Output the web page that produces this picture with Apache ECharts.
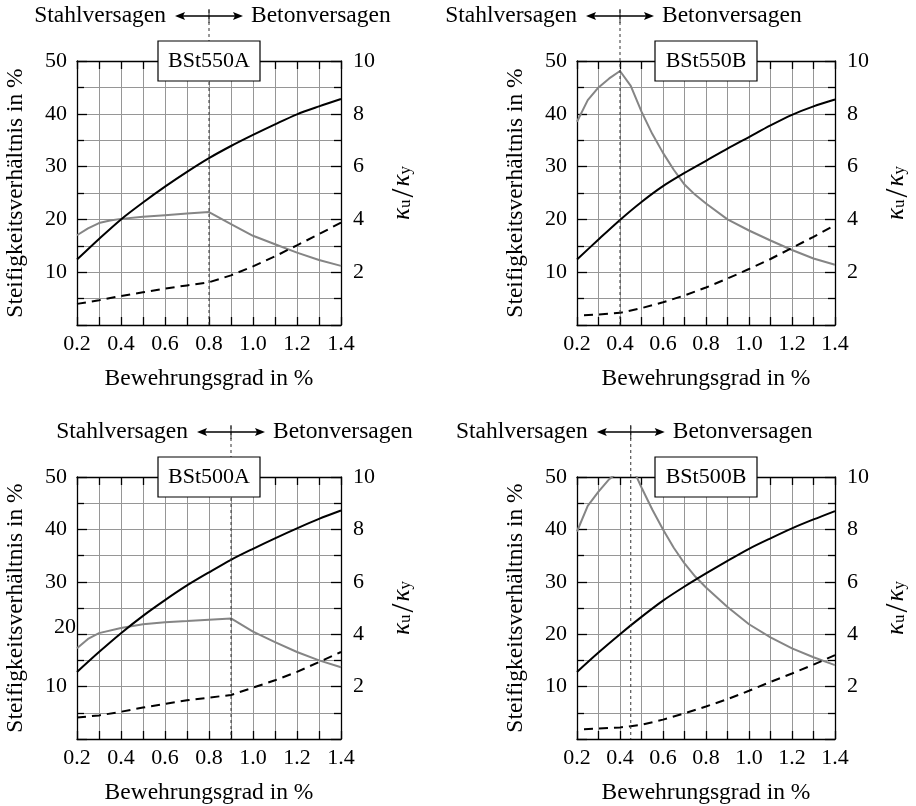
<!DOCTYPE html>
<html>
<head>
<meta charset="utf-8">
<script src="https://cdn.jsdelivr.net/npm/echarts@6/dist/echarts.min.js"></script>
<style>
  html, body { margin: 0; padding: 0; background: #fff; }
  #chart { width: 916px; height: 806px; }
</style>
</head>
<body>
<div id="chart"></div>
<script>
// Bewehrungsgrad (reinforcement ratio, %) sampled every 0.1
const rho = [0.2, 0.3, 0.4, 0.5, 0.6, 0.7, 0.8, 0.9, 1.0, 1.1, 1.2, 1.3, 1.4];

// BSt550A
const steif550A = [12.4, 16.3, 20.0, 23.2, 26.2, 29.0, 31.6, 33.9, 36.0, 38.0, 39.9, 41.4, 42.8];
const dash550A  = [4.0, 4.7, 5.5, 6.2, 6.9, 7.5, 8.1, 9.4, 11.1, 13.0, 15.1, 17.2, 19.4];
const rhoK550A  = [0.2, 0.25, 0.3, 0.35, 0.4, 0.5, 0.6, 0.7, 0.8, 0.9, 1.0, 1.1, 1.2, 1.3, 1.4];
const kappa550A = [3.40, 3.66, 3.86, 3.96, 4.02, 4.10, 4.16, 4.22, 4.28, 3.82, 3.38, 3.06, 2.74, 2.46, 2.24];
const limit550A = 0.8;

// BSt550B
const steif550B = [12.4, 16.2, 19.9, 23.3, 26.3, 28.8, 31.1, 33.4, 35.6, 37.8, 39.8, 41.4, 42.7];
const dash550B  = [1.8, 2.0, 2.3, 3.2, 4.3, 5.6, 7.1, 8.8, 10.6, 12.5, 14.6, 16.7, 18.9];
const rhoK550B  = [0.2, 0.25, 0.3, 0.35, 0.4, 0.45, 0.5, 0.55, 0.6, 0.65, 0.7, 0.75, 0.8, 0.9, 1.0, 1.1, 1.2, 1.3, 1.4];
const kappa550B = [7.70, 8.52, 9.00, 9.34, 9.62, 9.06, 8.08, 7.24, 6.52, 5.88, 5.32, 4.93, 4.60, 4.00, 3.58, 3.20, 2.84, 2.52, 2.28];
const limit550B = 0.4;

// BSt500A
const steif500A = [12.8, 16.6, 20.2, 23.5, 26.5, 29.3, 31.8, 34.2, 36.3, 38.3, 40.2, 42.0, 43.6];
const dash500A  = [4.1, 4.5, 5.2, 6.0, 6.7, 7.4, 7.9, 8.4, 9.8, 11.2, 12.8, 14.7, 16.6];
const rhoK500A  = [0.2, 0.25, 0.3, 0.4, 0.5, 0.6, 0.7, 0.8, 0.9, 1.0, 1.1, 1.2, 1.3, 1.4];
const kappa500A = [3.46, 3.82, 4.04, 4.24, 4.38, 4.46, 4.50, 4.55, 4.60, 4.10, 3.70, 3.32, 3.00, 2.74];
const limit500A = 0.9;

// BSt500B
const steif500B = [12.8, 16.5, 20.0, 23.3, 26.4, 29.1, 31.6, 34.0, 36.3, 38.3, 40.2, 41.9, 43.5];
const dash500B  = [1.8, 2.0, 2.2, 2.7, 3.7, 4.9, 6.2, 7.6, 9.2, 10.9, 12.5, 14.2, 16.0];
const rhoK500B  = [0.2, 0.25, 0.3, 0.35, 0.4, 0.45, 0.5, 0.55, 0.6, 0.65, 0.7, 0.75, 0.8, 0.9, 1.0, 1.1, 1.2, 1.3, 1.4];
const kappa500B = [7.92, 8.90, 9.44, 9.92, 10.24, 10.50, 9.60, 8.76, 8.00, 7.30, 6.70, 6.20, 5.78, 5.04, 4.38, 3.88, 3.46, 3.12, 2.82];
const limit500B = 0.45;

// Tick labels
const xTickLabels = ['0.2', '0.4', '0.6', '0.8', '1.0', '1.2', '1.4'];
const leftTickLabels = ['10', '20', '30', '40', '50'];
const rightTickLabels = ['2', '4', '6', '8', '10'];

// Texts
const xName = 'Bewehrungsgrad in %';
const yName = 'Steifigkeitsverhältnis in %';
const failLeft = 'Stahlversagen';
const failRight = 'Betonversagen';

const FONT = 'Liberation Serif';
const FS_TICK = 22;     // tick labels and material boxes
const FS_TEXT = 23.5;   // axis names and failure-mode annotations
const GRID_COLOR = '#969696';
const GRAY = '#858585';

const panels = [
  { title: 'BSt550A', steif: steif550A, dash: dash550A, rhoK: rhoK550A, kappa: kappa550A, limit: limit550A,
    grid: { left: 77, top: 61, width: 264, height: 264 }, dashOffset: 0, lift20: false },
  { title: 'BSt550B', steif: steif550B, dash: dash550B, rhoK: rhoK550B, kappa: kappa550B, limit: limit550B,
    grid: { left: 577, top: 61, width: 265, height: 264 }, dashOffset: 8, lift20: false },
  { title: 'BSt500A', steif: steif500A, dash: dash500A, rhoK: rhoK500A, kappa: kappa500A, limit: limit500A,
    grid: { left: 77, top: 477, width: 264, height: 264 }, dashOffset: 0, lift20: true },
  { title: 'BSt500B', steif: steif500B, dash: dash500B, rhoK: rhoK500B, kappa: kappa500B, limit: limit500B,
    grid: { left: 577, top: 477, width: 265, height: 264 }, dashOffset: 8, lift20: false }
];

const pairs = (xs, ys) => xs.map((x, i) => [x, ys[i]]);
const tickTxt = { fontFamily: FONT, fontSize: FS_TICK, color: '#000' };
const nameTxt = { fontFamily: FONT, fontSize: FS_TEXT, color: '#000' };

const grids = [], xAxes = [], yAxes = [], series = [];

panels.forEach((p, i) => {
  grids.push(Object.assign({ containLabel: false }, p.grid));

  // bottom axis with labels and vertical grid
  xAxes.push({
    type: 'value', gridIndex: i, position: 'bottom', min: 0.2, max: 1.4, interval: 0.1,
    axisLine: { onZero: false, lineStyle: { color: '#000', width: 1.3 } },
    axisTick: { inside: true, length: 8, lineStyle: { color: '#000', width: 1.3 } },
    axisLabel: Object.assign({}, tickTxt, {
      margin: 8,
      formatter: v => { const s = v.toFixed(1); return xTickLabels.includes(s) ? s : ''; }
    }),
    splitLine: { show: true, lineStyle: { color: GRID_COLOR, width: 1 } },
    name: xName, nameLocation: 'middle', nameGap: 42, nameTextStyle: nameTxt
  });
  // top frame axis, ticks only
  xAxes.push({
    type: 'value', gridIndex: i, position: 'top', min: 0.2, max: 1.4, interval: 0.1,
    axisLine: { onZero: false, lineStyle: { color: '#000', width: 1.3 } },
    axisTick: { inside: true, length: 8, lineStyle: { color: '#000', width: 1.3 } },
    axisLabel: { show: false }, splitLine: { show: false }
  });

  // left axis (Steifigkeitsverhältnis)
  yAxes.push({
    type: 'value', gridIndex: i, position: 'left', min: 0, max: 50, interval: 10,
    axisLine: { onZero: false, lineStyle: { color: '#000', width: 1.3 } },
    axisTick: { inside: true, length: 10, lineStyle: { color: '#000', width: 1.3 } },
    minorTick: { show: true, splitNumber: 2, length: 7, lineStyle: { color: '#000', width: 1.3 } },
    axisLabel: Object.assign({}, tickTxt, {
      margin: 1,
      formatter: v => {
        const s = String(v);
        if (!leftTickLabels.includes(s)) return '';
        return (p.lift20 && s === '20') ? '{o|' + s + '}' : '{n|' + s + '}';
      },
      rich: {
        n: { fontFamily: FONT, fontSize: FS_TICK, color: '#000', padding: [0, 9, 0, 0] },
        o: { fontFamily: FONT, fontSize: FS_TICK, color: '#000', padding: [0, 0, 14, 0] }
      }
    }),
    splitLine: { show: true, lineStyle: { color: GRID_COLOR, width: 1 } },
    minorSplitLine: { show: true, lineStyle: { color: GRID_COLOR, width: 1 } },
    name: yName, nameLocation: 'middle', nameGap: 49, nameTextStyle: nameTxt
  });
  // right axis (kappa_u / kappa_y)
  yAxes.push({
    type: 'value', gridIndex: i, position: 'right', min: 0, max: 10, interval: 2,
    axisLine: { onZero: false, lineStyle: { color: '#000', width: 1.3 } },
    axisTick: { inside: true, length: 10, lineStyle: { color: '#000', width: 1.3 } },
    minorTick: { show: true, splitNumber: 2, length: 7, lineStyle: { color: '#000', width: 1.3 } },
    axisLabel: Object.assign({}, tickTxt, {
      margin: 12,
      formatter: v => rightTickLabels.includes(String(v)) ? String(v) : ''
    }),
    splitLine: { show: false },
    name: '{k|κ}{s|u}{d|/}{k|κ}{s|y}', nameLocation: 'middle', nameGap: 48,
    nameTextStyle: {
      rich: {
        k: { fontFamily: FONT, fontSize: 25, fontStyle: 'italic', color: '#000', padding: [0, 0, 6, 0] },
        s: { fontFamily: FONT, fontSize: 17, color: '#000' },
        d: { fontFamily: FONT, fontSize: 32, color: '#000', padding: [0, 2, 1, 2] }
      }
    }
  });

  const xa = 2 * i, ya = 2 * i;
  series.push({
    type: 'line', xAxisIndex: xa, yAxisIndex: ya + 1, data: pairs(p.rhoK, p.kappa),
    showSymbol: false, clip: true, lineStyle: { color: GRAY, width: 2 }, z: 3
  });
  series.push({
    type: 'line', xAxisIndex: xa, yAxisIndex: ya, data: pairs(rho, p.dash),
    showSymbol: false, clip: true,
    lineStyle: { color: '#000', width: 2, type: [9, 6], dashOffset: p.dashOffset }, z: 4
  });
  series.push({
    type: 'line', xAxisIndex: xa, yAxisIndex: ya, data: pairs(rho, p.steif),
    showSymbol: false, clip: true, smooth: 0.3, lineStyle: { color: '#000', width: 2 }, z: 5
  });
});

const chart = echarts.init(document.getElementById('chart'), null, { renderer: 'canvas' });
chart.setOption({
  animation: false,
  backgroundColor: '#fff',
  grid: grids, xAxis: xAxes, yAxis: yAxes, series: series
});

// Failure-mode limit line, arrows and material boxes, placed from the axis scales
const elements = [];
const textFont = FS_TEXT + 'px "' + FONT + '"';
const boxFont = FS_TICK + 'px "' + FONT + '"';
panels.forEach((p, i) => {
  const x = chart.convertToPixel({ xAxisIndex: 2 * i }, p.limit);
  const yTop = chart.convertToPixel({ yAxisIndex: 2 * i }, 50);
  const yBot = chart.convertToPixel({ yAxisIndex: 2 * i }, 0);
  const xL = chart.convertToPixel({ xAxisIndex: 2 * i }, 0.2);
  const xR = chart.convertToPixel({ xAxisIndex: 2 * i }, 1.4);
  const cx = (xL + xR) / 2;
  const cy = yTop - 45;

  elements.push({ type: 'line', z: 50, shape: { x1: x, y1: cy - 6, x2: x, y2: yBot },
    style: { stroke: '#333', lineWidth: 1, lineDash: [3, 3] } });
  elements.push({ type: 'line', z: 51, shape: { x1: x, y1: cy - 7, x2: x, y2: cy + 7 },
    style: { stroke: '#222', lineWidth: 1 } });
  elements.push({ type: 'line', z: 51, shape: { x1: x - 28, y1: cy, x2: x + 28, y2: cy },
    style: { stroke: '#000', lineWidth: 1.3 } });
  elements.push({ type: 'polygon', z: 51, shape: { points: [[x - 34, cy], [x - 24, cy - 4], [x - 26, cy], [x - 24, cy + 4]] },
    style: { fill: '#000' } });
  elements.push({ type: 'polygon', z: 51, shape: { points: [[x + 34, cy], [x + 24, cy - 4], [x + 26, cy], [x + 24, cy + 4]] },
    style: { fill: '#000' } });
  elements.push({ type: 'text', z: 51, style: { text: failLeft, x: x - 43, y: cy, font: textFont, fill: '#000',
    align: 'right', textAlign: 'right', verticalAlign: 'middle', textVerticalAlign: 'middle' } });
  elements.push({ type: 'text', z: 51, style: { text: failRight, x: x + 42, y: cy, font: textFont, fill: '#000',
    align: 'left', textAlign: 'left', verticalAlign: 'middle', textVerticalAlign: 'middle' } });

  elements.push({ type: 'rect', z: 60, shape: { x: cx - 51, y: yTop - 20, width: 102, height: 40 },
    style: { fill: '#fff', stroke: '#000', lineWidth: 1.2 } });
  elements.push({ type: 'text', z: 61, style: { text: p.title, x: cx, y: yTop, font: boxFont, fill: '#000',
    align: 'center', textAlign: 'center', verticalAlign: 'middle', textVerticalAlign: 'middle' } });
});
chart.setOption({ graphic: { elements: elements } });
</script>
</body>
</html>
